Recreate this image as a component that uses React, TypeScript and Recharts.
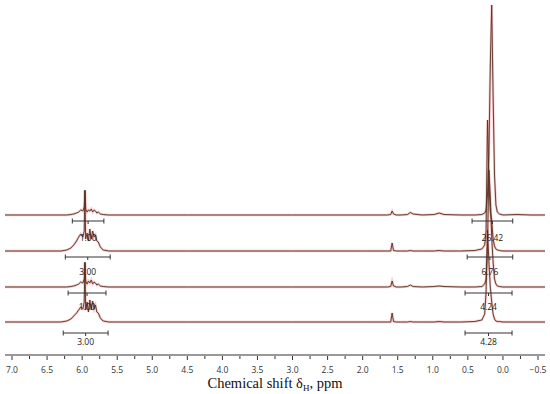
import {
  ComposedChart,
  Label,
  Line,
  ReferenceDot,
  ReferenceLine,
  XAxis,
  YAxis,
} from "recharts";

// chemical shift grid shared by all four spectra (ppm)
const PPM = [
  7.1, 6.5, 6.3, 6.22, 6.16, 6.12, 6.08, 6.05, 6.02, 5.99,
  5.97, 5.96, 5.95, 5.93, 5.91, 5.89, 5.87, 5.85, 5.83, 5.81,
  5.79, 5.77, 5.74, 5.7, 5.62, 5.5, 4.5, 3.0, 2.0, 1.65,
  1.6, 1.58, 1.56, 1.52, 1.45, 1.36, 1.32, 1.28, 1.15, 0.98,
  0.91, 0.84, 0.6, 0.4, 0.3, 0.26, 0.24, 0.22, 0.2, 0.18,
  0.16, 0.14, 0.12, 0.1, 0.08, 0.05, 0.0, -0.2, -0.4, -0.6,
];

// intensities (arbitrary units) of each spectrum, top to bottom
const TRACE1 = [
  0, 0, 0, 0, 0.5, 1, 2, 3, 5, 4,
  8, 25, 6, 3, 5, 4, 6, 3, 5, 4,
  2, 3, 1, 0.5, 0, 0, 0, 0, 0, 0,
  0.5, 4, 1, 0, 0, 0.5, 2.5, 1, 0, 0.5,
  2, 0.5, 0, 0, 0.5, 2, 5, 20, 60, 150,
  210, 120, 40, 10, 3, 1, 0, 0.5, 0, 0,
];
const TRACE2 = [
  0, 0, 0, 1, 3, 6, 10, 14, 17, 14,
  20, 60, 12, 18, 10, 22, 12, 20, 14, 16,
  10, 9, 4, 1, 0, 0, 0, 0, 0, 0,
  0, 8, 0.5, 0, 0, 0, 0.5, 0, 0, 0,
  0.5, 0, 0, 0.5, 2, 6, 20, 131, 70, 40,
  30, 12, 5, 2, 1, 0.5, 0, 0, 0, 0,
];
const TRACE3 = [
  0, 0, 0, 0, 0.5, 1, 2, 3, 5, 4,
  8, 25, 6, 3, 6, 4, 7, 3, 5, 4,
  2, 3, 1, 0.5, 0, 0, 0, 0, 0, 0,
  0.5, 6, 1, 0, 0, 0.5, 2, 0.5, 0, 0.5,
  1, 0.5, 0, 0, 0.5, 3, 8, 40, 117, 90,
  50, 25, 8, 3, 1, 0.5, 0, 0, 0, 0,
];
const TRACE4 = [
  0, 0, 0, 1, 3, 6, 9, 12, 15, 13,
  20, 59, 12, 20, 10, 22, 12, 21, 13, 17,
  10, 9, 4, 1, 0, 0, 0, 0, 0, 0,
  0, 9, 0.5, 0, 0, 0, 0.5, 0, 0, 0,
  0.5, 0, 0, 0.5, 2, 8, 30, 92, 60, 35,
  20, 8, 3, 1, 0.5, 0.5, 0, 0, 0, 0,
];
const OFFSETS = [140, 104, 68, 33];

// integrals: ranges (ppm), bar level, label level, values
const LEFT_FROM = [6.14, 6.24, 6.2, 6.27];
const LEFT_TO = [5.69, 5.6, 5.66, 5.63];
const LEFT_VALUES = ["1.00", "3.00", "1.00", "3.00"];
const RIGHT_FROM = [0.44, 0.51, 0.54, 0.54];
const RIGHT_TO = [-0.14, -0.14, -0.13, -0.13];
const RIGHT_VALUES = ["26.42", "6.76", "4.24", "4.28"];
const BAR_LEVEL = [134, 98, 62, 22];
const LABEL_LEVEL = [117, 83, 48, 13];

const MAJOR_TICKS = [7.0, 6.5, 6.0, 5.5, 5.0, 4.5, 4.0, 3.5, 3.0, 2.5, 2.0, 1.5, 1.0, 0.5, 0.0, -0.5];
const MINOR_TICKS = [6.75, 6.25, 5.75, 5.25, 4.75, 4.25, 3.75, 3.25, 2.75, 2.25, 1.75, 1.25, 0.75, 0.25, -0.25];

const TRACES = [TRACE1, TRACE2, TRACE3, TRACE4];
const rows = PPM.map((p, i) => {
  const r: Record<string, number> = { ppm: p };
  TRACES.forEach((t, k) => (r["t" + k] = OFFSETS[k] + t[i]));
  return r;
});

const AXIS_FONT = "'Open Sans', 'Liberation Sans', sans-serif";

function Tick(props: any) {
  const { x, y, payload } = props;
  const v = payload.value as number;
  const major = MAJOR_TICKS.includes(v);
  const txt = v < 0 ? "\u2212" + Math.abs(v).toFixed(1) : v.toFixed(1);
  return (
    <g>
      <line x1={x} x2={x} y1={y - 1} y2={y + (major ? 3 : 2)} stroke="#333" strokeWidth={1} />
      {major && (
        <text x={x} y={y + 16} textAnchor="middle" fontSize={8.5} fontFamily={AXIS_FONT} fill="#333">
          {txt}
        </text>
      )}
    </g>
  );
}

function Title(props: any) {
  const vb = props.viewBox;
  const cx = vb.x + vb.width / 2;
  return (
    <text x={cx} y={vb.y + 33} textAnchor="middle" fontSize={14.5} fontFamily="'Liberation Serif', serif" fill="#111">
      Chemical shift δ
      <tspan fontSize={9} dy={3}>H</tspan>
      <tspan dy={-3}>, ppm</tspan>
    </text>
  );
}

function Integral({ from, to, level, labelLevel, value }: any) {
  const mid = (from + to) / 2;
  return (
    <>
      <ReferenceLine segment={[{ x: from, y: level }, { x: to, y: level }]} stroke="#333" strokeWidth={1} />
      <ReferenceLine segment={[{ x: from, y: level - 2.5 }, { x: from, y: level + 2.5 }]} stroke="#333" />
      <ReferenceLine segment={[{ x: to, y: level - 2.5 }, { x: to, y: level + 2.5 }]} stroke="#333" />
      <ReferenceLine segment={[{ x: mid, y: level }, { x: mid, y: level - 3 }]} stroke="#333" />
      <ReferenceDot
        x={mid}
        y={labelLevel}
        r={0.01}
        fill="none"
        stroke="none"
        label={{ value, position: "center", fontSize: 8.5, fill: "#222", fontFamily: AXIS_FONT }}
      />
    </>
  );
}

export default function App() {
  return (
    <div style={{ position: "absolute", left: 0, top: 0, background: "#fff" }}>
      <ComposedChart width={550} height={394} data={rows} margin={{ top: 5, right: 5, bottom: 0, left: 5 }}>
        <XAxis
          dataKey="ppm"
          type="number"
          domain={[-0.6, 7.1]}
          reversed
          allowDataOverflow
          ticks={[...MAJOR_TICKS, ...MINOR_TICKS]}
          interval={0}
          tick={<Tick />}
          tickLine={false}
          tickSize={0}
          axisLine={{ stroke: "#333" }}
          height={39}
        >
          <Label content={<Title />} />
        </XAxis>
        <YAxis hide domain={[0, 350]} allowDataOverflow />
        {TRACES.map((_, k) => (
          <Line
            key={"r" + k}
            dataKey={"t" + k}
            type="linear"
            dot={false}
            stroke="#e0606a"
            strokeOpacity={0.35}
            strokeWidth={2.4}
            isAnimationActive={false}
          />
        ))}
        {TRACES.map((_, k) => (
          <Line
            key={"d" + k}
            dataKey={"t" + k}
            type="linear"
            dot={false}
            stroke="#56301f"
            strokeWidth={0.9}
            isAnimationActive={false}
          />
        ))}
        {OFFSETS.map((_, k) => (
          <Integral
            key={"li" + k}
            from={LEFT_FROM[k]}
            to={LEFT_TO[k]}
            level={BAR_LEVEL[k]}
            labelLevel={LABEL_LEVEL[k]}
            value={LEFT_VALUES[k]}
          />
        ))}
        {OFFSETS.map((_, k) => (
          <Integral
            key={"ri" + k}
            from={RIGHT_FROM[k]}
            to={RIGHT_TO[k]}
            level={BAR_LEVEL[k]}
            labelLevel={LABEL_LEVEL[k]}
            value={RIGHT_VALUES[k]}
          />
        ))}
      </ComposedChart>
    </div>
  );
}
